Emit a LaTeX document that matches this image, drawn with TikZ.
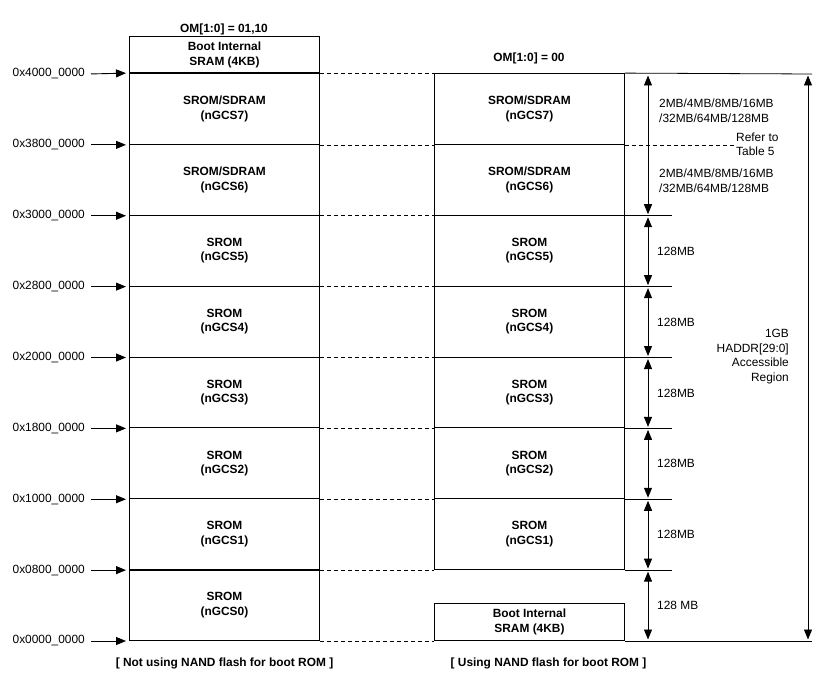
\documentclass[tikz,border=0pt]{standalone}
\usepackage{fontspec}
\setmainfont{Liberation Sans}
\usetikzlibrary{arrows.meta}
\begin{document}
\begin{tikzpicture}[x=1pt,y=1pt,
  font=\fontsize{11.9}{14.5}\selectfont,
  memrow/.style={draw, line width=0.9pt, minimum width=190pt, minimum height=70.875pt, inner sep=0pt, anchor=south west, align=center, font=\fontsize{11.9}{14.5}\selectfont\bfseries},
  bootbox/.style={memrow, minimum height=37pt},
  addr/.style={anchor=east, inner sep=3pt},
  tip/.tip={Triangle[length=10pt,width=8pt]},
  arr/.style={-tip, line width=0.9pt, shorten >=3pt, shorten <=3pt},
  dim/.style={tip-tip, line width=0.9pt, shorten <=1.5pt, shorten >=1.5pt},
  guide/.style={dash pattern=on 4pt off 3pt, line width=0.7pt},
  ext/.style={line width=0.8pt},
  lbl/.style={anchor=west, align=left, inner sep=0pt},
  rlbl/.style={anchor=east, align=right, inner sep=0pt},
  ttl/.style={font=\fontsize{11.9}{14.5}\selectfont\bfseries, inner sep=0pt},
]
\useasboundingbox (0,0) rectangle (826,681);

% ---------- left column ----------
\node[bootbox] (LB) at (129,607) {Boot Internal\\SRAM (4KB)};
\node[memrow] (L7) at (129,{40+70.875*7}) {SROM/SDRAM\\(nGCS7)};
\node[memrow] (L6) at (129,{40+70.875*6}) {SROM/SDRAM\\(nGCS6)};
\node[memrow] (L5) at (129,{40+70.875*5}) {SROM\\(nGCS5)};
\node[memrow] (L4) at (129,{40+70.875*4}) {SROM\\(nGCS4)};
\node[memrow] (L3) at (129,{40+70.875*3}) {SROM\\(nGCS3)};
\node[memrow] (L2) at (129,{40+70.875*2}) {SROM\\(nGCS2)};
\node[memrow] (L1) at (129,{40+70.875*1}) {SROM\\(nGCS1)};
\node[memrow] (L0) at (129,40) {SROM\\(nGCS0)};
\draw[line width=1.8pt] (L7.north west) -- (L7.north east);
\draw[line width=1.8pt] (L1.south west) -- (L1.south east);
\draw[line width=1.3pt] (L5.south west) -- (L5.south east);

% ---------- right column ----------
\node[memrow] (R7) at (434,{40+70.875*7}) {SROM/SDRAM\\(nGCS7)};
\node[memrow] (R6) at (434,{40+70.875*6}) {SROM/SDRAM\\(nGCS6)};
\node[memrow] (R5) at (434,{40+70.875*5}) {SROM\\(nGCS5)};
\node[memrow] (R4) at (434,{40+70.875*4}) {SROM\\(nGCS4)};
\node[memrow] (R3) at (434,{40+70.875*3}) {SROM\\(nGCS3)};
\node[memrow] (R2) at (434,{40+70.875*2}) {SROM\\(nGCS2)};
\node[memrow] (R1) at (434,{40+70.875*1}) {SROM\\(nGCS1)};
\node[bootbox] (RB) at (434,40) {Boot Internal\\SRAM (4KB)};

% ---------- titles ----------
\node[ttl] (t1) at (224,652) {OM[1:0] = 01,10};
\node[ttl] (t2) at (529,623) {OM[1:0] = 00};
\node[ttl] (c1) at (224.5,18) {[ Not using NAND flash for boot ROM ]};
\node[ttl] (c2) at (548.5,18) {[ Using NAND flash for boot ROM ]};

% ---------- address labels ----------
\node[addr] (a8) at (88,{40+70.875*8}) {0x4000\_0000};
\node[addr] (a7) at (88,{40+70.875*7}) {0x3800\_0000};
\node[addr] (a6) at (88,{40+70.875*6}) {0x3000\_0000};
\node[addr] (a5) at (88,{40+70.875*5}) {0x2800\_0000};
\node[addr] (a4) at (88,{40+70.875*4}) {0x2000\_0000};
\node[addr] (a3) at (88,{40+70.875*3}) {0x1800\_0000};
\node[addr] (a2) at (88,{40+70.875*2}) {0x1000\_0000};
\node[addr] (a1) at (88,{40+70.875*1}) {0x0800\_0000};
\node[addr] (a0) at (88,40) {0x0000\_0000};
\draw[arr] (a8.east) -- (L7.north west);
\draw[arr] (a7.east) -- (L7.south west);
\draw[arr] (a6.east) -- (L6.south west);
\draw[arr] (a5.east) -- (L5.south west);
\draw[arr] (a4.east) -- (L4.south west);
\draw[arr] (a3.east) -- (L3.south west);
\draw[arr] (a2.east) -- (L2.south west);
\draw[arr] (a1.east) -- (L1.south west);
\draw[arr] (a0.east) -- (L0.south west);

% ---------- dashed guides ----------
\draw[guide] (L7.north east) -- (R7.north west);
\draw[guide] (L7.south east) -- (R7.south west);
\draw[guide] (L6.south east) -- (R6.south west);
\draw[guide] (L5.south east) -- (R5.south west);
\draw[guide] (L4.south east) -- (R4.south west);
\draw[guide] (L3.south east) -- (R3.south west);
\draw[guide] (L2.south east) -- (R2.south west);
\draw[guide] (L1.south east) -- (R1.south west);
\draw[guide] (L0.south east) -- (RB.south west);
\coordinate (rt) at (735,{40+70.875*7});
\draw[guide] (R7.south east) -- (rt);

% ---------- extension lines ----------
\foreach \k in {1,...,6} { \coordinate (e\k) at (672,{40+70.875*\k}); }
\coordinate (e8) at (812,607);
\coordinate (e0) at (812,40);
\draw[ext] (R7.north east) -- (e8);
\draw[ext] (RB.south east) -- (e0);
\draw[ext] (R6.south east) -- (e6);
\draw[ext] (R5.south east) -- (e5);
\draw[ext] (R4.south east) -- (e4);
\draw[ext] (R3.south east) -- (e3);
\draw[ext] (R2.south east) -- (e2);
\draw[ext] (R1.south east) -- (e1);

% ---------- dimension arrows ----------
\foreach \k in {0,...,8} { \coordinate (d\k) at (648,{40+70.875*\k}); }
\draw[dim] (d8) -- (d6);
\draw[dim] (d6) -- (d5);
\draw[dim] (d5) -- (d4);
\draw[dim] (d4) -- (d3);
\draw[dim] (d3) -- (d2);
\draw[dim] (d2) -- (d1);
\draw[dim] (d1) -- (d0);
\coordinate (g8) at (808,607);
\coordinate (g0) at (808,40);
\draw[dim] (g8) -- (g0);

% ---------- dimension labels ----------
\node[lbl] (s7) at (659,570.5) {2MB/4MB/8MB/16MB\\/32MB/64MB/128MB};
\node[lbl] (s6) at (659,500.5) {2MB/4MB/8MB/16MB\\/32MB/64MB/128MB};
\node[lbl] (rf) at (736,536.5) {Refer to\\Table 5};
\node[lbl] (s5) at (657,{40+70.875*5.5}) {128MB};
\node[lbl] (s4) at (657,{40+70.875*4.5}) {128MB};
\node[lbl] (s3) at (657,{40+70.875*3.5}) {128MB};
\node[lbl] (s2) at (657,{40+70.875*2.5}) {128MB};
\node[lbl] (s1) at (657,{40+70.875*1.5}) {128MB};
\node[lbl] (s0) at (657,{40+70.875*0.5}) {128 MB};
\node[rlbl] (gb) at (789,324.5) {1GB\\HADDR[29:0]\\Accessible\\Region};
\end{tikzpicture}
\end{document}
